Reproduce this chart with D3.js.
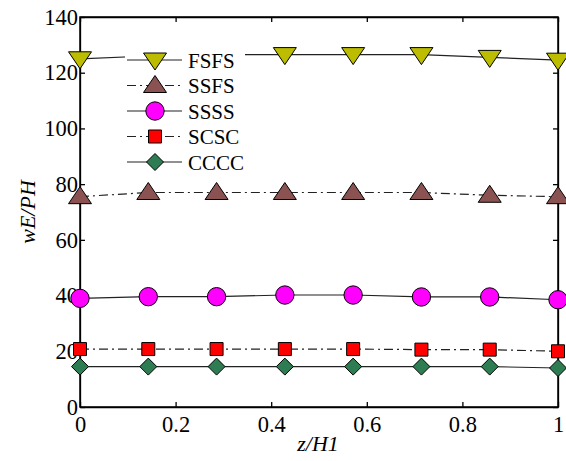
<!DOCTYPE html>
<html>
<head>
<meta charset="utf-8">
<script src="https://cdn.jsdelivr.net/npm/d3@7"></script>
<style>
body { margin: 0; background: #fff; }
text { font-family: "Liberation Serif", "Times New Roman", serif; }
</style>
</head>
<body>
<div class="canvas"></div>
<script>
// data
const zValues = [0, 1/7, 2/7, 3/7, 4/7, 5/7, 6/7, 1]
const seriesNames = ['FSFS', 'SSFS', 'SSSS', 'SCSC', 'CCCC']
const fsfs = [125, 126, 126.5, 126.5, 126.5, 126.5, 125.5, 124.5]
const ssfs = [75.5, 77, 77, 77, 77, 77, 76, 75.5]
const ssss = [39, 39.6, 39.6, 40.2, 40.2, 39.5, 39.5, 38.5]
const scsc = [20.8, 20.8, 20.8, 20.8, 20.8, 20.6, 20.6, 20]
const cccc = [14.5, 14.5, 14.5, 14.5, 14.5, 14.5, 14.5, 14]
const xTicks = [0, 0.2, 0.4, 0.6, 0.8, 1]
const yTicks = [0, 20, 40, 60, 80, 100, 120, 140]

const series = [
  { name: 'FSFS', values: fsfs, shape: 'tridown', fill: '#bcbc00', dash: null },
  { name: 'SSFS', values: ssfs, shape: 'triup', fill: '#8b5252', dash: '9,4,2,4' },
  { name: 'SSSS', values: ssss, shape: 'circle', fill: '#ff00ff', dash: null },
  { name: 'SCSC', values: scsc, shape: 'square', fill: '#ff0000', dash: '9,4,2,4' },
  { name: 'CCCC', values: cccc, shape: 'diamond', fill: '#2e7d52', dash: null }
]

const width = 566, height = 461
const pLeft = 80, pRight = 558, pTop = 17, pBottom = 407

const svg = d3.select('.canvas').append('svg')
  .attr('width', width)
  .attr('height', height)

const x = d3.scaleLinear().domain([0, 1]).range([pLeft, pRight])
const y = d3.scaleLinear().domain([0, 140]).range([pBottom, pTop])

// axes with inward ticks
svg.append('g')
  .attr('transform', `translate(0,${pBottom})`)
  .call(d3.axisBottom(x).tickValues(xTicks).tickFormat(d3.format('')).tickSizeInner(-5).tickSizeOuter(0).tickPadding(9))
svg.append('g')
  .attr('transform', `translate(0,${pTop})`)
  .call(d3.axisTop(x).tickValues(xTicks).tickFormat('').tickSizeInner(-5).tickSizeOuter(0))
svg.append('g')
  .attr('transform', `translate(${pLeft},0)`)
  .call(d3.axisLeft(y).tickValues(yTicks).tickSizeInner(-5).tickSizeOuter(0).tickPadding(2))
svg.append('g')
  .attr('transform', `translate(${pRight},0)`)
  .call(d3.axisRight(y).tickValues(yTicks).tickFormat('').tickSizeInner(-5).tickSizeOuter(0))

svg.selectAll('.tick text').attr('font-size', 22.5).attr('fill', '#000')
svg.selectAll('.domain, .tick line').attr('stroke', '#000').attr('stroke-width', 1.3)

svg.append('rect')
  .attr('x', pLeft).attr('y', pTop)
  .attr('width', pRight - pLeft).attr('height', pBottom - pTop)
  .attr('fill', 'none').attr('stroke', '#000').attr('stroke-width', 1.5)

function symbolPath(shape) {
  switch (shape) {
    case 'tridown': return 'M-11.5,-7L11.5,-7L0,10Z'
    case 'triup': return 'M-11.5,7L11.5,7L0,-10Z'
    case 'circle': return d3.symbol(d3.symbolCircle, 265)()
    case 'square': return 'M-6.5,-6.5L6.5,-6.5L6.5,6.5L-6.5,6.5Z'
    case 'diamond': return 'M0,-8.5L8.5,0L0,8.5L-8.5,0Z'
  }
}

const line = d3.line().x((d, i) => x(zValues[i])).y(d => y(d))

series.forEach(s => {
  svg.append('path')
    .attr('d', line(s.values))
    .attr('fill', 'none')
    .attr('stroke', '#222')
    .attr('stroke-width', 1.2)
    .attr('stroke-dasharray', s.dash)
})

series.forEach(s => {
  svg.append('g').selectAll('path')
    .data(s.values)
    .join('path')
    .attr('transform', (d, i) => `translate(${x(zValues[i])},${y(d)})`)
    .attr('d', symbolPath(s.shape))
    .attr('fill', s.fill)
    .attr('stroke', '#000')
    .attr('stroke-width', 1)
})

// legend
const legend = svg.append('g').attr('transform', 'translate(125,44)')
legend.append('rect')
  .attr('width', 120).attr('height', 132)
  .attr('fill', '#fff')
series.forEach((s, i) => {
  const g = legend.append('g').attr('transform', `translate(0,${16 + i * 25.5})`)
  g.append('line')
    .attr('x1', 2).attr('x2', 57)
    .attr('stroke', '#222').attr('stroke-width', 1.2)
    .attr('stroke-dasharray', s.dash)
  g.append('path')
    .attr('transform', 'translate(30,0)')
    .attr('d', symbolPath(s.shape))
    .attr('fill', s.fill).attr('stroke', '#000')
  g.append('text')
    .attr('x', 63).attr('y', 7.5)
    .attr('font-size', 21)
    .text(seriesNames[i])
})

// axis titles
svg.append('text')
  .attr('x', 318).attr('y', 451)
  .attr('text-anchor', 'middle')
  .attr('font-size', 22)
  .attr('font-style', 'italic')
  .text('z/H1')

svg.append('text')
  .attr('transform', 'translate(35,212) rotate(-90)')
  .attr('text-anchor', 'middle')
  .attr('font-size', 22)
  .attr('font-style', 'italic')
  .text('wE/PH')
</script>
</body>
</html>
